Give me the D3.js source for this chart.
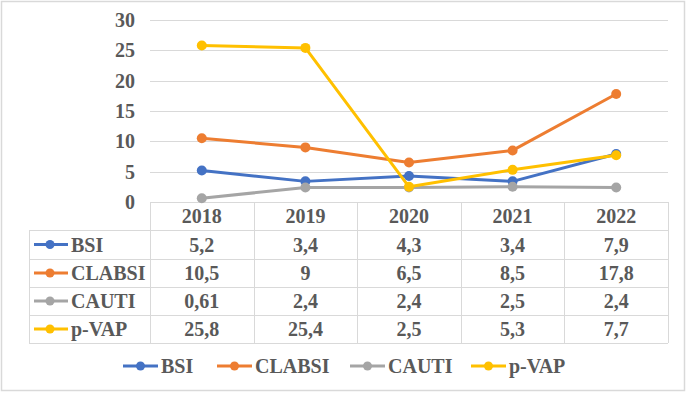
<!DOCTYPE html>
<html><head><meta charset="utf-8">
<script src="https://cdn.jsdelivr.net/npm/d3@7"></script>
<style>body{margin:0;background:#fff}svg{display:block}svg text{font-family:'Liberation Serif','Times New Roman',serif;font-weight:bold;font-size:20px;fill:#595959}</style>
</head><body>
<svg id="c" width="687" height="395"></svg>
<script>
const years = ["2018","2019","2020","2021","2022"];
const seriesNames = ["BSI","CLABSI","CAUTI","p-VAP"];
const bsi = [5.2,3.4,4.3,3.4,7.9];
const clabsi = [10.5,9,6.5,8.5,17.8];
const cauti = [0.61,2.4,2.4,2.5,2.4];
const pvap = [25.8,25.4,2.5,5.3,7.7];
const bsiLabels = ["5,2","3,4","4,3","3,4","7,9"];
const clabsiLabels = ["10,5","9","6,5","8,5","17,8"];
const cautiLabels = ["0,61","2,4","2,4","2,5","2,4"];
const pvapLabels = ["25,8","25,4","2,5","5,3","7,7"];
const yTicks = [0,5,10,15,20,25,30];
const colors = ["#4472C4","#ED7D31","#A5A5A5","#FFC000"];

(function(){
const series = [
  {name:seriesNames[0], values:bsi, labels:bsiLabels, color:colors[0]},
  {name:seriesNames[1], values:clabsi, labels:clabsiLabels, color:colors[1]},
  {name:seriesNames[2], values:cauti, labels:cautiLabels, color:colors[2]},
  {name:seriesNames[3], values:pvap, labels:pvapLabels, color:colors[3]}
];

const svg = d3.select("#c");
const gridColor = "#d9d9d9";

svg.append("rect").attr("x",1.5).attr("y",1.5).attr("width",683).attr("height",389)
  .attr("fill","#fff").attr("stroke","#d9d9d9").attr("stroke-width",1.5);

const pL = 150, pR = 668, pT = 20, pB = 202;
const x = d3.scaleBand().domain(years).range([pL,pR]);
const y = d3.scaleLinear().domain([0,30]).range([pB,pT]);

svg.append("g").selectAll("line").data(yTicks.filter(d=>d>0)).join("line")
  .attr("x1",pL).attr("x2",pR).attr("y1",d=>Math.round(y(d))+0.5).attr("y2",d=>Math.round(y(d))+0.5)
  .attr("stroke",gridColor).attr("stroke-width",1);

const yAxis = d3.axisLeft(y).tickValues(yTicks).tickSize(0).tickPadding(0).tickFormat(d3.format("d"));
const ya = svg.append("g").attr("transform",`translate(135,0)`).call(yAxis);
ya.attr("font-family",null).attr("font-size",null);
ya.select(".domain").remove();
ya.selectAll("text").attr("fill",null).attr("dy","0.33em");

const rowH = [202,230,259,287,315,343];
const tbl = svg.append("g");
tbl.append("line").attr("x1",pL).attr("x2",pR).attr("y1",rowH[0]+0.5).attr("y2",rowH[0]+0.5).attr("stroke",gridColor);
rowH.slice(1).forEach(yy=>{
  tbl.append("line").attr("x1",29).attr("x2",pR).attr("y1",yy+0.5).attr("y2",yy+0.5).attr("stroke",gridColor);
});
tbl.append("line").attr("x1",29.5).attr("x2",29.5).attr("y1",rowH[1]).attr("y2",rowH[5]).attr("stroke",gridColor);
years.forEach(yr=>{
  const xx = Math.round(x(yr))+0.5;
  tbl.append("line").attr("x1",xx).attr("x2",xx).attr("y1",rowH[0]).attr("y2",rowH[5]).attr("stroke",gridColor);
});
tbl.append("line").attr("x1",pR+0.5).attr("x2",pR+0.5).attr("y1",rowH[0]).attr("y2",rowH[5]).attr("stroke",gridColor);

tbl.selectAll("text.hdr").data(years).join("text").attr("class","hdr")
  .attr("x",d=>x(d)+x.bandwidth()/2).attr("y",(rowH[0]+rowH[1])/2)
  .attr("dy","0.35em").attr("text-anchor","middle")
  .text(d=>d);

series.forEach((s,i)=>{
  const cy = (rowH[i+1]+rowH[i+2])/2;
  tbl.append("line").attr("x1",34).attr("x2",68).attr("y1",cy).attr("y2",cy)
    .attr("stroke",s.color).attr("stroke-width",3);
  tbl.append("circle").attr("cx",50).attr("cy",cy).attr("r",4.5).attr("fill",s.color);
  tbl.append("text").attr("x",71).attr("y",cy).attr("dy","0.35em").text(s.name);
  tbl.selectAll(null).data(s.labels).join("text")
    .attr("x",(d,j)=>x(years[j])+x.bandwidth()/2).attr("y",cy).attr("dy","0.35em").attr("text-anchor","middle")
    .text(d=>d);
});

const line = d3.line().x((d,j)=>x(years[j])+x.bandwidth()/2).y(d=>y(d));
series.forEach(s=>{
  const g = svg.append("g");
  g.append("path").datum(s.values).attr("d",line).attr("fill","none")
    .attr("stroke",s.color).attr("stroke-width",3).attr("stroke-linejoin","round");
  g.selectAll("circle").data(s.values).join("circle")
    .attr("cx",(d,j)=>x(years[j])+x.bandwidth()/2).attr("cy",d=>y(d)).attr("r",5).attr("fill",s.color);
});

const legX = [123,217,350,471];
const lg = svg.append("g");
series.forEach((s,i)=>{
  const ly = 366;
  lg.append("line").attr("x1",legX[i]).attr("x2",legX[i]+35).attr("y1",ly).attr("y2",ly)
    .attr("stroke",s.color).attr("stroke-width",3);
  lg.append("circle").attr("cx",legX[i]+17.5).attr("cy",ly).attr("r",4.5).attr("fill",s.color);
  lg.append("text").attr("x",legX[i]+38).attr("y",ly).attr("dy","0.35em").text(s.name);
});
})();
</script>
</body></html>
